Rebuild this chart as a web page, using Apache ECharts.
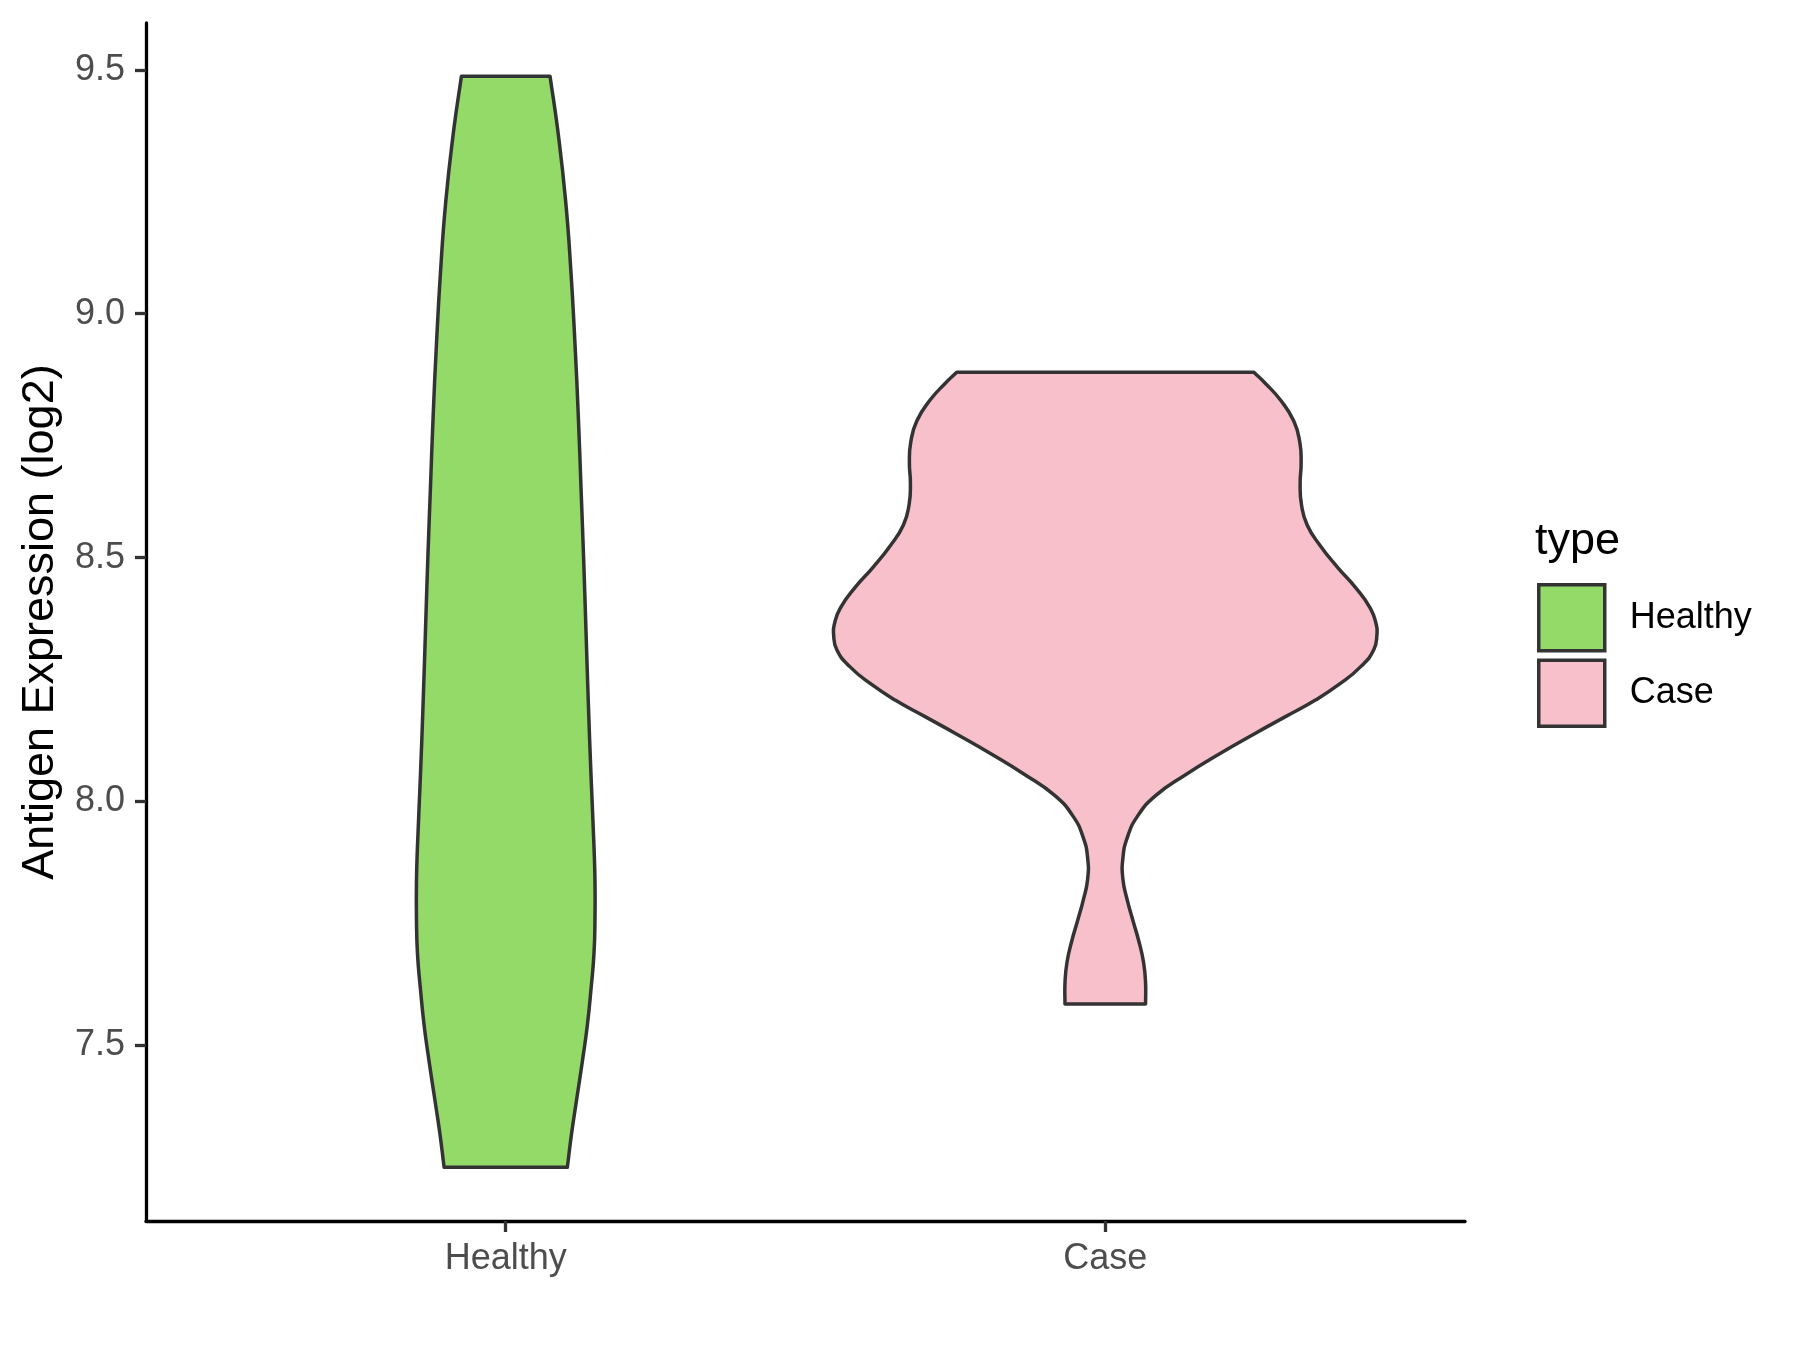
<!DOCTYPE html>
<html><head><meta charset="utf-8">
<script src="https://cdn.jsdelivr.net/npm/echarts@6/dist/echarts.min.js"></script>
<style>html,body{margin:0;padding:0;background:#fff}#c{width:1800px;height:1350px}</style>
</head><body><div id="c"></div>
<script>
// ---- data ----
const categories = ['Healthy', 'Case'];
const yTicks = [7.5, 8.0, 8.5, 9.0, 9.5];
const yRange = [7.14, 9.596];
const xRange = [0.4, 2.6];

// Healthy violin outline: y levels (top -> bottom) and half-widths (category units)
const healthyY = [9.487, 9.377, 9.230, 9.083, 8.936, 8.789, 8.642, 8.496, 8.349, 8.202, 8.055, 7.908, 7.835, 7.761, 7.688, 7.615, 7.541, 7.467, 7.394, 7.321, 7.250];
const healthyHalfWidth = [0.0739, 0.0867, 0.1000, 0.1089, 0.1156, 0.1211, 0.1256, 0.1300, 0.1339, 0.1378, 0.1422, 0.1472, 0.1489, 0.1489, 0.1472, 0.1422, 0.1361, 0.1278, 0.1189, 0.1100, 0.1028];

// Case violin outline
const caseY = [8.880, 8.857, 8.823, 8.780, 8.737, 8.695, 8.652, 8.609, 8.567, 8.524, 8.481, 8.439, 8.396, 8.362, 8.345, 8.311, 8.276, 8.242, 8.208, 8.174, 8.140, 8.097, 8.055, 8.012, 7.969, 7.926, 7.884, 7.841, 7.798, 7.756, 7.713, 7.670, 7.628, 7.585];
const caseHalfWidth = [0.2478, 0.2672, 0.2922, 0.3144, 0.3244, 0.3267, 0.3250, 0.3272, 0.3367, 0.3589, 0.3867, 0.4172, 0.4422, 0.4522, 0.4533, 0.4478, 0.4256, 0.3922, 0.3506, 0.3006, 0.2506, 0.1894, 0.1339, 0.0839, 0.0533, 0.0367, 0.0294, 0.0294, 0.0367, 0.0461, 0.0561, 0.0639, 0.0672, 0.0672];

// ---- styling ----
const FONT = '"Liberation Sans", Arial, sans-serif';
const fillColors = { Healthy: '#93DA69', Case: '#F8C0CB' };
const outline = '#333333';

function violinRenderer(ys, hws, center, fill) {
  return function (params, api) {
    const left = [], right = [];
    for (let i = 0; i < ys.length; i++) {
      left.push(api.coord([center - hws[i], ys[i]]));
      right.push(api.coord([center + hws[i], ys[i]]));
    }
    const pts = [];
    pts.push(left[0]);
    for (let i = 0; i < left.length; i++) pts.push(left[i]);
    pts.push(left[left.length - 1]);
    pts.push(right[right.length - 1]);
    for (let i = right.length - 1; i >= 0; i--) pts.push(right[i]);
    pts.push(right[0]);
    return {
      type: 'polygon',
      shape: { points: pts, smooth: 0.5 },
      style: { fill: fill, stroke: outline, lineWidth: 3.5, lineJoin: 'round' }
    };
  };
}

const chart = echarts.init(document.getElementById('c'), null, { renderer: 'canvas' });
chart.setOption({
  animation: false,
  backgroundColor: '#ffffff',
  textStyle: { fontFamily: FONT },
  grid: { left: 146, right: 335, top: 23, bottom: 129, containLabel: false },
  title: {
    text: 'type', left: 1530, top: 514,
    textStyle: { fontSize: 45, fontWeight: 'normal', color: '#000', fontFamily: FONT }
  },
  legend: {
    orient: 'vertical', left: 1532, top: 578,
    itemWidth: 66, itemHeight: 66, itemGap: 6,
    selectedMode: false,
    icon: 'rect',
    data: categories.map(c => ({
      name: c,
      itemStyle: { color: fillColors[c], borderColor: outline, borderWidth: 3.5 }
    })),
    textStyle: { fontSize: 36, color: '#000', fontFamily: FONT, padding: [0, 0, 0, 20] }
  },
  xAxis: {
    type: 'value', min: xRange[0], max: xRange[1],
    splitLine: { show: false },
    axisLine: { show: true, onZero: false, lineStyle: { color: '#000', width: 3.3 } },
    axisTick: { show: true, customValues: [1, 2], length: 11, lineStyle: { color: '#333', width: 3.3 } },
    axisLabel: {
      customValues: [1, 2], fontSize: 36, color: '#4D4D4D', margin: 20, fontFamily: FONT,
      formatter: v => categories[Math.round(v) - 1]
    }
  },
  yAxis: {
    type: 'value', min: yRange[0], max: yRange[1],
    splitLine: { show: false },
    axisLine: { show: true, onZero: false, lineStyle: { color: '#000', width: 3.3 } },
    axisTick: { show: true, customValues: yTicks, length: 11, lineStyle: { color: '#333', width: 3.3 } },
    axisLabel: {
      customValues: yTicks, fontSize: 36, color: '#4D4D4D', margin: 21, fontFamily: FONT,
      formatter: v => v.toFixed(1)
    },
    name: 'Antigen Expression (log2)', nameLocation: 'middle', nameGap: 83,
    nameTextStyle: { fontSize: 45, color: '#000', fontFamily: FONT }
  },
  series: [
    {
      type: 'custom', name: 'Healthy', coordinateSystem: 'cartesian2d',
      itemStyle: { color: fillColors.Healthy },
      renderItem: violinRenderer(healthyY, healthyHalfWidth, 1, fillColors.Healthy),
      data: [[1, healthyY[0]]], clip: false
    },
    {
      type: 'custom', name: 'Case', coordinateSystem: 'cartesian2d',
      itemStyle: { color: fillColors.Case },
      renderItem: violinRenderer(caseY, caseHalfWidth, 2, fillColors.Case),
      data: [[2, caseY[0]]], clip: false
    }
  ]
});
</script>
</body></html>
